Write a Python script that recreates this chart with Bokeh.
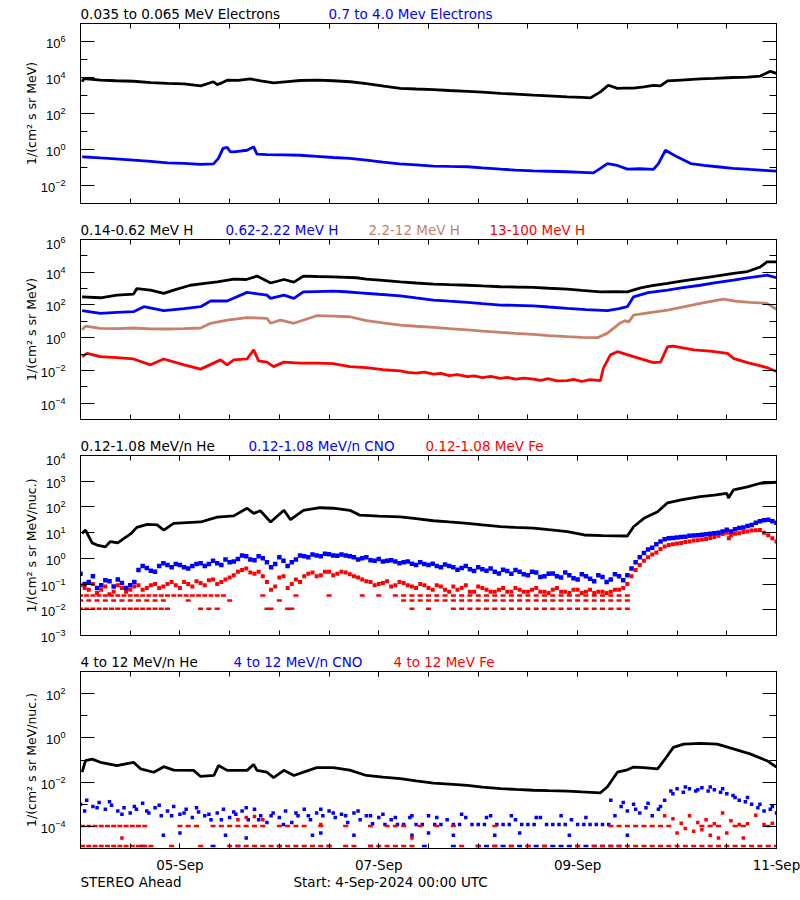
from bokeh.plotting import figure
from bokeh.layouts import column
from bokeh.models import (LogAxis, LinearAxis, FixedTicker, Range1d, CustomJSTickFormatter, ColumnDataSource)
from bokeh.core.properties import value
from bokeh.embed import file_html
from bokeh.resources import INLINE

FONT = "DejaVu Sans"
TICK_FONT = "Liberation Sans Narrow, Liberation Sans"
FS = "13.5px"
BLACK, BLUE, RED, BROWN = "#000000", "#0000ff", "#ff0000", "#c8806a"

# ---------------- titles (text, colour) ----------------
title1 = [("0.035 to 0.065 MeV Electrons", BLACK), ("0.7 to 4.0 Mev Electrons", BLUE)]
title2 = [("0.14-0.62 MeV H", BLACK), ("0.62-2.22 MeV H", BLUE), ("2.2-12 MeV H", BROWN), ("13-100 MeV H", RED)]
title3 = [("0.12-1.08 MeV/n He", BLACK), ("0.12-1.08 MeV/n CNO", BLUE), ("0.12-1.08 MeV Fe", RED)]
title4 = [("4 to 12 MeV/n He", BLACK), ("4 to 12 MeV/n CNO", BLUE), ("4 to 12 MeV Fe", RED)]
footer = [("STEREO Ahead", BLACK), ("Start:  4-Sep-2024 00:00 UTC", BLACK)]

# ---------------- x axis (hours since 4-Sep-2024 00:00 UTC) ----------------
x_tick_hours = [24, 72, 120, 168]
x_tick_labels = ["05-Sep", "07-Sep", "09-Sep", "11-Sep"]
x_minor_hours = [0, 12, 24, 36, 48, 60, 72, 84, 96, 108, 120, 132, 144, 156, 168]

# ---------------- Panel 1: electrons ----------------
e_lo_h = [0.4, 0.8, 4.8, 8.5, 12.8, 17, 21, 25, 29, 32.1, 33, 33.8, 35.4, 38, 41, 43.5, 46.6, 50, 53, 57.2,
          61, 65.2, 69, 73.2, 77.2, 81, 85.2, 89, 93.4, 97, 101.4, 105, 109.3, 113, 117.5, 121, 123.1, 125.5,
          127.4, 129.6, 131, 133.5, 136, 138.3, 140, 141.7, 145, 149.6, 153, 157.6, 161, 164.1, 166.5, 168]
e_lo_v = [5.8e3, 8.7e3, 7.1e3, 6.6e3, 6.2e3, 5.2e3, 4.7e3, 4.4e3, 3.4e3, 5.8e3, 4.0e3, 4.7e3, 7.1e3, 6.9e3,
          8.3e3, 6.4e3, 5.0e3, 5.9e3, 6.8e3, 7.1e3, 6.6e3, 5.8e3, 4.6e3, 3.3e3, 2.5e3, 2.3e3, 2.1e3, 1.9e3,
          1.7e3, 1.55e3, 1.3e3, 1.2e3, 1.05e3, 9.5e2, 8.3e2, 7.9e2, 7.4e2, 1.6e3, 3.7e3, 2.5e3, 2.6e3,
          2.6e3, 3.0e3, 3.7e3, 3.4e3, 6.5e3, 7.2e3, 8.3e3, 8.9e3, 1.0e4, 1.05e4, 1.2e4, 2.2e4, 1.7e4]
e_hi_h = [0.4, 2.5, 4.8, 8.5, 12.8, 17, 21, 25, 29, 32.1, 33.3, 34.4, 35.4, 36.2, 37, 40.2, 41.8, 42.6, 45,
          49, 53, 57, 61, 65, 69, 73, 77, 81, 85.2, 89, 93.4, 97, 101.4, 105, 109.3, 113, 117.5, 121, 123.8,
          125.5, 127.2, 129.6, 132, 135, 138.3, 139.5, 141.2, 144, 147.3, 150.5, 153.7, 157.5, 161.6, 165,
          168]
e_hi_v = [0.39, 0.37, 0.34, 0.3, 0.26, 0.22, 0.18, 0.17, 0.15, 0.16, 0.32, 1.15, 1.3, 0.74, 0.74, 0.91, 1.4,
          0.55, 0.52, 0.5, 0.48, 0.42, 0.36, 0.32, 0.26, 0.2, 0.16, 0.14, 0.12, 0.115, 0.11, 0.095, 0.081,
          0.072, 0.065, 0.062, 0.058, 0.054, 0.05, 0.089, 0.166, 0.13, 0.081, 0.085, 0.078, 0.166, 0.91,
          0.39, 0.166, 0.13, 0.11, 0.09, 0.078, 0.07, 0.063]

# ---------------- Panel 2: protons ----------------
h1_h = [0.4, 4.8, 8.8, 12.8, 13.6, 16.9, 20.1, 22.5, 26.5, 30, 33, 37, 40, 42.6, 45.9, 49.1, 51.5, 53.8, 57,
        61, 66.6, 69, 73, 77.2, 81, 85.2, 89, 93.4, 97, 101.4, 105, 109.3, 113, 117.5, 121, 125.5, 129, 132,
        135.2, 138, 141.7, 145, 149.6, 153, 157.6, 161, 164.1, 165.7, 168]
h1_v = [316, 275, 400, 457, 1.0e3, 813, 513, 813, 1.6e3, 2.1e3, 2.6e3, 3.8e3, 3.6e3, 5.8e3, 2.2e3, 3.6e3,
        2.5e3, 5.8e3, 5.5e3, 5.2e3, 4.6e3, 3.8e3, 3.2e3, 2.6e3, 2.2e3, 1.9e3, 1.75e3, 1.6e3, 1.45e3, 1.3e3,
        1.25e3, 1.2e3, 1.05e3, 933, 780, 631, 640, 631, 1.1e3, 1.5e3, 2.1e3, 2.9e3, 4.2e3, 5.6e3, 8.5e3,
        1.1e4, 2.1e4, 4.3e4, 4.3e4]
h2_h = [0.4, 4.8, 8.8, 12.8, 15.3, 20.1, 25, 29, 31.4, 35.4, 40.2, 45, 45.9, 49.1, 51.5, 53.8, 57, 61, 64,
        67.4, 72, 77.2, 81, 85.2, 89, 93.4, 97, 101.4, 105, 109.3, 113, 117.5, 122, 127.2, 130, 132, 133.5,
        137, 141.7, 145, 149.6, 153, 157.6, 161, 165.7, 168]
h2_v = [45, 31, 35, 39, 78, 45, 60, 78, 174, 174, 589, 400, 251, 400, 251, 631, 660, 692, 640, 550, 450, 363,
        270, 200, 170, 145, 120, 98, 95, 89, 75, 62, 52, 45, 60, 78, 316, 560, 813, 1.1e3, 1.6e3, 2.2e3,
        3.3e3, 4.5e3, 6.6e3, 4.6e3]
h3_h = [0.4, 1.2, 4.8, 8.8, 12.8, 17, 21, 25, 29, 31.4, 35.4, 40.2, 45, 45.9, 48.3, 51.5, 57, 61, 65, 69,
        73, 77.2, 81, 85.2, 89, 93.4, 97, 101.4, 105, 109.3, 113, 117.5, 121, 124.8, 127.2, 130.3, 131.4,
        132.3, 133.5, 137, 141.7, 145, 149.6, 155.2, 158, 161.6, 165.7, 168]
h3_v = [3.0, 5.1, 3.7, 3.6, 3.9, 3.5, 3.4, 3.6, 3.9, 7.6, 12, 17, 15, 7.6, 12, 7.6, 22, 21, 19, 11, 8.0, 5.9,
        5.0, 4.3, 3.6, 3.0, 2.5, 2.1, 1.85, 1.6, 1.35, 1.15, 1.05, 1.0, 1.9, 8.0, 11, 9.0, 24, 33, 49, 70, 126,
        229, 170, 145, 126, 54]
h4_h = [0.4, 1.6, 4.8, 8.8, 12.8, 16.9, 20.1, 25, 29, 33.8, 35.4, 37, 40.2, 41.8, 43, 45, 46.6, 49.1, 53,
        57, 61, 65, 69, 73, 77.2, 79, 81, 83, 85.2, 87, 89, 91, 93.4, 95, 97, 99, 101.4, 103, 105, 107,
        109.3, 111, 113, 115, 117.5, 119, 121, 123, 125.5, 126.2, 127.9, 129.6, 133.5, 138.3, 140, 141.7,
        143.1, 148, 152, 156.2, 157.6, 161, 165.7, 168]
h4_v = [0.069, 0.11, 0.069, 0.06, 0.05, 0.022, 0.05, 0.022, 0.012, 0.044, 0.022, 0.044, 0.05, 0.18, 0.038,
        0.032, 0.017, 0.032, 0.028, 0.028, 0.026, 0.017, 0.015, 0.011, 0.0093, 0.0075, 0.0068, 0.0078,
        0.0059, 0.0066, 0.0048, 0.0055, 0.0042, 0.0047, 0.0036, 0.0043, 0.0033, 0.0038, 0.0029, 0.0034,
        0.0029, 0.0025, 0.0031, 0.0023, 0.0024, 0.0028, 0.0021, 0.0027, 0.0024, 0.0135, 0.089, 0.14, 0.069,
        0.030, 0.032, 0.28, 0.30, 0.18, 0.15, 0.11, 0.055, 0.03, 0.015, 0.0085]

# ---------------- Panel 3: low-energy ions ----------------
he3_h = [0.4, 1.2, 2.8, 4, 6, 7.2, 9, 10.5, 12.1, 13.6, 16.1, 18.5, 20.1, 22.5, 29, 33, 37, 40.2, 41.8, 43.4,
         45.9, 49.1, 50.7, 53.8, 57.8, 61, 65, 67.4, 72, 77.2, 81, 85.2, 89, 93.4, 97, 101.4, 105, 109.3, 113,
         117.5, 121.6, 126, 132, 133.5, 136, 139.3, 141.7, 145, 149.6, 153, 156, 156.4, 157.6, 161, 164.1, 168]
he3_v = [9.3, 12.6, 4.0, 3.3, 2.8, 4.5, 4.0, 6.0, 8.9, 16, 21, 20, 12.6, 23, 26, 40, 45, 89, 56, 71, 26, 74,
         32, 74, 93, 89, 74, 48, 44, 41, 35, 29, 26, 23, 20, 17, 16, 15, 13, 11, 8.1, 7.6, 7.4, 17, 36, 65,
         145, 190, 251, 290, 339, 224, 457, 600, 832, 912]
cno3_h = [0, 2, 4, 6, 8, 10, 12, 14, 16, 18, 20, 22, 24, 26, 28, 30, 32, 34, 36, 38, 40, 42, 44, 46, 48, 50,
          52, 54, 56, 58, 60, 62, 64, 66, 68, 70, 72, 74, 76, 78, 80, 82, 84, 86, 88, 90, 92, 94, 96, 98, 100,
          102, 104, 106, 108, 110, 112, 114, 116, 118, 120, 122, 124, 126, 128, 130, 132, 134, 136, 138, 140,
          142, 144, 146, 148, 150, 152, 154, 156, 158, 160, 162, 164, 166, 168,
          1, 3, 5, 7, 9, 11, 13, 15, 17, 19, 21, 23, 25, 27, 29, 31, 33, 35, 37, 39, 41, 43, 45, 47, 49, 51,
          53, 55, 57, 59, 61, 63, 65, 67, 69, 71, 73, 75, 77, 79, 81, 83, 85, 87, 89, 91, 93, 95, 97, 99, 101,
          103, 105, 107, 109, 111, 113, 115, 117, 119, 121, 123, 125, 127, 129, 131, 133, 135, 137, 139, 141,
          143, 145, 147, 149, 151, 153, 155, 157, 159, 161, 163, 165, 167]
cno3_v = [0.25, 0.12, 0.07, 0.14, 0.08, 0.11, 0.09, 0.35, 0.42, 0.3, 0.65, 0.45, 0.55, 0.4, 0.6, 0.5, 0.8,
          0.55, 0.7, 0.95, 1.2, 0.85, 1.0, 0.45, 1.1, 0.5, 0.9, 1.2, 1.4, 1.2, 1.45, 1.25, 1.3, 1.1, 1.0, 0.85,
          0.95, 0.8, 0.75, 0.7, 0.62, 0.7, 0.55, 0.5, 0.58, 0.45, 0.42, 0.38, 0.45, 0.33, 0.3, 0.36, 0.25,
          0.3, 0.22, 0.28, 0.2, 0.26, 0.18, 0.22, 0.15, 0.2, 0.13, 0.19, 0.15, 0.2, 0.22, 0.7, 1.6, 2.6, 4.5,
          6.0, 6.5, 7.0, 7.8, 8.2, 9.0, 10.0, 13.0, 13.5, 16, 20, 28, 32, 24,
          0.1, 0.2, 0.09, 0.13, 0.15, 0.07, 0.12, 0.5, 0.33, 0.5, 0.55, 0.6, 0.45, 0.5, 0.65, 0.6, 0.65, 0.9,
          0.75, 1.3, 0.9, 1.2, 0.7, 0.6, 0.8, 0.7, 1.3, 1.1, 1.3, 1.5, 1.3, 1.4, 1.2, 0.9, 1.1, 0.8, 0.75,
          0.85, 0.65, 0.75, 0.55, 0.6, 0.62, 0.45, 0.5, 0.36, 0.5, 0.32, 0.38, 0.4, 0.26, 0.32, 0.35, 0.24,
          0.3, 0.19, 0.25, 0.2, 0.28, 0.17, 0.24, 0.16, 0.22, 0.12, 0.24, 0.14, 0.4, 1.1, 2.2, 3.5, 5.5, 6.2,
          6.8, 7.5, 8.0, 8.6, 9.5, 11, 11, 15, 18, 24, 30, 28]
fe3_h = [0, 2, 4, 6, 8, 10, 12, 14, 16, 18, 20, 22, 24, 26, 28, 30, 32, 34, 36, 38, 40, 42, 44, 46, 48, 50,
         52, 54, 56, 58, 60, 62, 64, 66, 68, 70, 72, 74, 76, 78, 80, 82, 84, 86, 88, 90, 92, 94, 96, 98, 100,
         102, 104, 106, 108, 110, 112, 114, 116, 118, 120, 122, 124, 126, 128, 130, 132,
         1, 3, 5, 7, 9, 11, 13, 15, 17, 19, 21, 23, 25, 27, 29, 31, 33, 35, 37, 39, 41, 43, 45, 47, 49, 51,
         53, 55, 57, 59, 61, 63, 65, 67, 69, 71, 73, 75, 77, 79, 81, 83, 85, 87, 89, 91, 93, 95, 97, 99, 101,
         103, 105, 107, 109, 111, 113, 115, 117, 119, 121, 123, 125, 127, 129, 131,
         133, 134, 135, 136, 137, 138, 139, 140, 141, 142, 143, 144, 145, 146, 147, 148, 149, 150, 151, 152,
         153, 154, 155, 156, 156.5, 157, 158, 159, 160, 161, 162, 163, 164, 165, 166, 167, 168]
fe3_v = [0.09, 0.06, 0.045, 0.08, 0.05, 0.07, 0.06, 0.09, 0.07, 0.1, 0.08, 0.12, 0.07, 0.1, 0.13, 0.09,
         0.15, 0.12, 0.18, 0.3, 0.4, 0.25, 0.2, 0.06, 0.18, 0.07, 0.15, 0.2, 0.28, 0.22, 0.3, 0.25, 0.28, 0.2,
         0.15, 0.12, 0.1, 0.13, 0.09, 0.11, 0.08, 0.1, 0.07, 0.09, 0.06, 0.08, 0.07, 0.05, 0.08, 0.06, 0.05,
         0.07, 0.05, 0.06, 0.05, 0.07, 0.05, 0.06, 0.05, 0.045, 0.06, 0.05, 0.045, 0.05, 0.05, 0.06, 0.1,
         0.07, 0.1, 0.06, 0.04, 0.09, 0.05, 0.08, 0.06, 0.09, 0.07, 0.1, 0.09, 0.12, 0.08, 0.11, 0.14, 0.1,
         0.15, 0.22, 0.35, 0.28, 0.3, 0.12, 0.08, 0.2, 0.1, 0.12, 0.25, 0.2, 0.3, 0.22, 0.3, 0.24, 0.18, 0.13,
         0.09, 0.11, 0.08, 0.12, 0.09, 0.07, 0.09, 0.06, 0.08, 0.05, 0.06, 0.09, 0.05, 0.07, 0.05, 0.06, 0.05,
         0.07, 0.05, 0.06, 0.05, 0.045, 0.07, 0.05, 0.06, 0.045, 0.06, 0.05, 0.045, 0.06, 0.07,
         0.2, 0.35, 0.55, 0.8, 1.1, 1.4, 1.7, 2.3, 2.9, 3.3, 3.5, 3.8, 4.0, 4.3, 4.5, 4.9, 5.1, 5.4, 5.7, 6.2,
         6.8, 7.6, 8.8, 9.8, 6.0, 8.0, 9.0, 9.5, 10.5, 11, 12, 12.5, 12.6, 10, 8, 6, 4.5]
# quantized low-count Fe levels (one count per interval)
fe3_lvl1_v = 0.036
fe3_lvl1_h = [0, 1.5, 3, 4.5, 6, 7.5, 9, 10.5, 12, 13.5, 15, 16.5, 18, 19.5, 21, 22.5, 24, 25.5, 27, 28.5, 30,
              31.5, 33, 34.5, 44, 52, 60, 68, 72, 76, 78, 80, 82, 84, 86, 88, 90, 92, 94, 96, 98, 100, 102,
              104, 106, 108, 110, 112, 114, 116, 118, 120, 122, 124, 126, 128, 130, 132]
fe3_lvl2_v = 0.023
fe3_lvl2_h = [0, 2, 4, 6, 8, 10, 12, 14, 16, 18, 20, 26, 36, 48, 78, 80, 82, 84, 86, 88, 90, 92, 94, 96, 98,
              100, 102, 104, 106, 108, 110, 112, 114, 116, 118, 120, 122, 124, 126, 128, 130, 132]
fe3_lvl3_v = 0.011
fe3_lvl3_h = [0, 1.5, 3, 4.5, 6, 7.5, 9, 10.5, 12, 13.5, 15, 16.5, 18, 19.5, 21, 29, 31, 33, 45, 46, 50, 51,
              80, 84, 90, 92, 94, 96, 98, 100, 102, 104, 106, 108, 110, 112, 114, 116, 118, 120, 122, 124,
              126, 128, 130, 132]

# ---------------- Panel 4: high-energy ions ----------------
he4_h = [0.4, 1.2, 2.8, 4.8, 8.8, 12.8, 14.5, 17.7, 20.1, 22.5, 27.3, 29, 32.2, 33.3, 35.4, 40.2, 41.8, 42.6,
         45, 46.6, 49.1, 51.5, 57, 61, 65, 69, 73, 77.2, 81, 85.2, 89, 93.4, 97, 101.4, 105, 109.3, 113,
         117.5, 121, 125.5, 127.2, 129.6, 132, 133.5, 136, 139.3, 140.8, 143.1, 145.6, 149.6, 153.7, 157.6,
         161.6, 165.7, 168]
he4_v = [0.028, 0.093, 0.11, 0.079, 0.056, 0.079, 0.04, 0.028, 0.05, 0.035, 0.034, 0.018, 0.02, 0.056, 0.034,
         0.034, 0.063, 0.034, 0.028, 0.016, 0.034, 0.02, 0.045, 0.045, 0.035, 0.02, 0.017, 0.0145, 0.0115,
         0.0091, 0.0082, 0.0072, 0.006, 0.0051, 0.0047, 0.0043, 0.0041, 0.0039, 0.0036, 0.0033, 0.0062, 0.028,
         0.036, 0.048, 0.045, 0.04, 0.093, 0.37, 0.52, 0.56, 0.52, 0.32, 0.19, 0.093, 0.048]
cno4_h = [0, 1.5, 3, 4.5, 6, 7.5, 9, 10.5, 12, 13.5, 15, 16.5, 18, 19.5, 21, 22.5, 24, 25.5, 27, 28.5, 30,
          31.5, 33, 34.5, 36, 37.5, 39, 40.5, 42, 43.5, 45, 46.5, 48, 49.5, 51, 52.5, 54, 55.5, 57, 58.5, 60,
          61.5, 63, 64.5, 66, 67.5, 69, 70.5, 72, 73.5, 75, 76.5, 78, 79.5, 81, 82.5, 84, 85.5, 87, 88.5, 90,
          91.5, 93, 94.5, 96, 97.5, 99, 100.5, 102, 103.5, 105, 106.5, 108, 109.5, 111, 112.5, 114, 115.5, 117,
          118.5, 120, 121.5, 123, 124.5, 126, 127.5, 129, 130.5, 132, 133.5, 135, 136.5, 138, 139.5, 141,
          142.5, 144, 145.5, 147, 148.5, 150, 151.5, 153, 154.5, 156, 157.5, 159, 160.5, 162, 163.5, 165,
          166.5, 168,
          1, 4, 7, 10, 13, 16, 19, 22, 25, 28, 31, 34, 37, 40, 43, 46, 49, 52, 55, 58, 61, 64, 67, 70, 73, 76,
          80, 86, 92, 98, 104, 110, 116, 122, 128, 131, 134, 137, 140, 143, 146, 149, 152, 155, 158, 161, 164,
          167,
          20, 24, 35, 40, 56, 58, 66, 80, 84, 90, 100, 106, 118, 132]
cno4_v = [1e-3, 1.5e-3, 8e-4, 1.2e-3, 6e-4, 9e-4, 5e-4, 7e-4, 4e-4, 6e-4, 1.1e-3, 4e-4, 7e-4, 3e-4, 5e-4,
          8e-4, 3.5e-4, 6e-4, 2.5e-4, 4.5e-4, 3e-4, 2e-4, 4e-4, 6e-4, 2.5e-4, 3.5e-4, 5e-4, 2e-4, 6e-4, 3e-4,
          1.5e-4, 4e-4, 2.5e-4, 5e-4, 1.5e-4, 3e-4, 6e-4, 2e-4, 4e-4, 3e-4, 5e-4, 2.5e-4, 3.5e-4, 1.5e-4,
          4e-4, 2e-4, 3e-4, 1.3e-4, 2.5e-4, 1.2e-4, 2e-4, 1.2e-4, 1.2e-4, 2.5e-4, 1.2e-4, 1.2e-4, 3e-4,
          1.2e-4, 1.2e-4, 2e-4, 1.2e-4, 1.2e-4, 2.5e-4, 1.2e-4, 1.2e-4, 1.2e-4, 3e-4, 1.2e-4, 1.2e-4, 1.2e-4,
          2e-4, 1.2e-4, 1.2e-4, 1.2e-4, 2.5e-4, 1.2e-4, 1.2e-4, 1.2e-4, 1.2e-4, 2e-4, 1.2e-4, 1.2e-4, 1.2e-4,
          1.2e-4, 1.2e-4, 1.2e-4, 3e-4, 8e-4, 5e-4, 1e-3, 4e-4, 7e-4, 3e-4, 6e-4, 1.5e-3, 4e-3, 5e-3, 3.5e-3,
          5e-3, 4e-3, 5.5e-3, 4e-3, 4.5e-3, 3.5e-3, 3e-3, 2.5e-3, 1.5e-3, 1.3e-3, 1e-3, 7e-4, 5e-4, 6e-4,
          4e-4,
          5e-4, 7e-4, 1.3e-3, 3.5e-4, 8e-4, 5e-4, 9e-4, 3e-4, 4e-4, 7e-4, 3.5e-4, 2e-4, 4.5e-4, 7e-4, 2e-4,
          3e-4, 1.2e-4, 4e-4, 3e-4, 6e-4, 4e-4, 3e-4, 5e-4, 3e-4, 3.5e-4, 2.5e-4, 3e-4, 2.5e-4, 3.5e-4,
          2.5e-4, 3e-4, 2.5e-4, 3e-4, 2.5e-4, 1.5e-3, 1.2e-3, 6e-4, 1.1e-3, 8e-4, 3e-3, 6e-3, 4.5e-3, 6e-3,
          5e-3, 2e-3, 2e-3, 1e-3, 8e-4,
          4e-5, 5e-5, 4e-5, 3e-5, 4e-5, 5e-5, 4e-5, 4e-5, 5e-5, 4e-5, 4e-5, 5e-5, 4e-5, 4e-5]
cno4_floor_v = 1.3e-5
cno4_floor_h = [15, 32, 38, 48, 60, 70, 83, 90, 96, 98, 100, 102, 104, 106, 108, 110, 112, 114, 116, 118,
                120, 122, 124, 126, 128, 130]
fe4_lvl1_v = 1.05e-4
fe4_lvl1_h = [0.5, 2, 3.5, 5, 6.5, 8, 9.5, 11, 12.5, 14, 15.5, 24, 26, 28, 32, 34, 36, 38, 40, 42, 44, 48,
              50, 52, 54, 58, 64, 70, 74, 76, 78, 82, 86, 90, 100, 128, 130, 132, 134, 136, 138, 140, 142,
              150, 152, 154, 158, 160, 166]
fe4_lvl2_v = 1.3e-5
fe4_lvl2_h = [0.5, 2, 3.5, 5, 6.5, 8, 9.5, 11, 12.5, 14, 15.5, 17, 22, 29, 36, 38, 40, 42, 44, 46, 48, 50,
              52, 54, 56, 58, 60, 64, 66, 70, 72, 74, 76, 78, 80, 92, 96, 100, 104, 108, 112, 120, 124, 126,
              128, 130, 132, 134, 136, 138, 140, 142, 144, 146, 148, 150, 152, 154, 156, 158, 160, 162, 164,
              166, 168]
fe4_h = [10, 38, 40, 42, 44, 58, 80, 141, 143, 145, 147, 149, 151, 153, 155, 157, 159, 161, 163, 165, 167,
         144, 146, 148, 150, 152, 154, 156, 160]
fe4_v = [3e-5, 2e-4, 2.5e-4, 2.8e-4, 2e-4, 1.2e-4, 3e-5, 3e-4, 2.2e-4, 1.4e-4, 3e-4, 1.5e-4, 2e-4, 1.3e-4,
         4e-4, 1.8e-4, 1.2e-4, 1.3e-4, 3.2e-4, 1.2e-4, 1.4e-4, 5e-5, 8e-5, 6e-5, 7e-5, 4e-5, 3e-5, 5e-5, 3e-5]

UNITS_1 = "1/(cm\u00b2 s sr MeV)"
UNITS_2 = "1/(cm\u00b2 s sr MeV/nuc.)"

W = 800
FRAME_H = 180
LEFT, RIGHT = 80, 24


def blank():
    return CustomJSTickFormatter(code="return ''")


def strip(height, items, xs, y):
    # a text-only row whose frame lines up with the panels, x in page pixels
    s = figure(width=W, height=height, x_range=Range1d(LEFT, W - RIGHT), y_range=Range1d(0, height),
               output_backend="svg", toolbar_location=None, min_border_left=LEFT,
               min_border_right=RIGHT, min_border_top=0, min_border_bottom=0,
               x_axis_location=None, y_axis_location=None, outline_line_color=None)
    s.grid.visible = False
    src = ColumnDataSource(dict(x=xs, y=[y] * len(items), text=[t for t, c in items],
                                color=[c for t, c in items]))
    s.text(x="x", y="y", text="text", text_color="color", source=src, text_font=value(FONT),
           text_font_size=value(FS), text_baseline="middle", text_align="left")
    return s


def panel(ylo, yhi, major, minor, ylabel, bottom, show_dates):
    p = figure(width=W, height=3 + FRAME_H + bottom, x_range=Range1d(0, 168),
               y_range=Range1d(ylo, yhi), y_axis_type="log", output_backend="svg",
               toolbar_location=None, min_border_left=LEFT, min_border_right=RIGHT,
               min_border_top=3, min_border_bottom=bottom)
    p.grid.visible = False
    p.outline_line_color = "black"
    yt = FixedTicker(ticks=major, minor_ticks=minor)
    xt = FixedTicker(ticks=x_tick_hours, minor_ticks=x_minor_hours)
    ya = p.yaxis[0]
    ya.ticker = yt
    ya.axis_line_color = "black"
    ya.major_tick_line_color = "black"
    ya.minor_tick_line_color = "black"
    ya.major_tick_in, ya.major_tick_out = 14, 0
    ya.minor_tick_in, ya.minor_tick_out = 7, 0
    ya.major_label_text_font = TICK_FONT
    ya.major_label_text_font_size = "13px"
    ya.major_label_text_color = "black"
    ya.major_label_standoff = 15
    ya.axis_label = ylabel
    ya.axis_label_text_font = FONT
    ya.axis_label_text_font_size = "12.5px"
    ya.axis_label_text_font_style = "normal"
    ya.axis_label_text_color = "black"
    ya.axis_label_standoff = -1
    ra = LogAxis(ticker=yt, formatter=blank(), major_tick_in=14, major_tick_out=0, minor_tick_in=7,
                 minor_tick_out=0, major_label_standoff=0, major_label_text_font_size="1px",
                 axis_line_color="black", major_tick_line_color="black", minor_tick_line_color="black")
    p.add_layout(ra, "right")
    xa = p.xaxis[0]
    xa.ticker = xt
    xa.axis_line_color = "black"
    xa.major_tick_line_color = "black"
    xa.minor_tick_line_color = "black"
    xa.major_tick_in, xa.major_tick_out = 5, 0
    xa.minor_tick_in, xa.minor_tick_out = 5, 0
    if show_dates:
        xa.major_label_overrides = {h: s for h, s in zip(x_tick_hours, x_tick_labels)}
        xa.major_label_text_font = FONT
        xa.major_label_text_font_size = FS
        xa.major_label_text_color = "black"
        xa.major_label_standoff = 8
    else:
        xa.formatter = blank()
        xa.major_label_standoff = 0
        xa.major_label_text_font_size = "1px"
    ta = LinearAxis(ticker=xt, formatter=blank(), major_tick_in=5, major_tick_out=0, minor_tick_in=5,
                    minor_tick_out=0, major_label_standoff=0, major_label_text_font_size="1px",
                    axis_line_color="black", major_tick_line_color="black", minor_tick_line_color="black")
    p.add_layout(ta, "above")
    return p


def dashes(p, hours, level, color):
    p.scatter(hours, [level] * len(hours), marker="dash", size=5, line_width=2.5, line_color=color)


s1 = strip(20, title1, [80, 328], 7)
s2 = strip(23, title2, [80, 225, 368, 489], 7)
s3 = strip(23, title3, [80, 248, 425], 7)
s4 = strip(23, title4, [80, 233, 393], 7)
s5 = strip(20, footer, [80, 293], 14)

# Panel 1
p1 = panel(1e-3, 1e7, [1e-2, 1, 1e2, 1e4, 1e6], [1e-3, 1e-1, 1e1, 1e3, 1e5, 1e7], UNITS_1, 10, False)
p1.line(e_lo_h, e_lo_v, line_width=2.8, color=BLACK)
p1.line(e_hi_h, e_hi_v, line_width=2.8, color=BLUE)

# Panel 2
p2 = panel(1e-5, 1e6, [1e-4, 1e-2, 1, 1e2, 1e4, 1e6], [1e-5, 1e-3, 1e-1, 1e1, 1e3, 1e5], UNITS_1, 10, False)
p2.line(h1_h, h1_v, line_width=2.8, color=BLACK)
p2.line(h2_h, h2_v, line_width=2.8, color=BLUE)
p2.line(h3_h, h3_v, line_width=2.8, color=BROWN)
p2.line(h4_h, h4_v, line_width=2.8, color=RED)

# Panel 3
p3 = panel(1e-3, 1e4, [1e-3, 1e-2, 1e-1, 1, 1e1, 1e2, 1e3, 1e4], [], UNITS_2, 10, False)
dashes(p3, fe3_lvl1_h, fe3_lvl1_v, RED)
dashes(p3, fe3_lvl2_h, fe3_lvl2_v, RED)
dashes(p3, fe3_lvl3_h, fe3_lvl3_v, RED)
p3.scatter(fe3_h, fe3_v, marker="square", size=4, line_width=0, fill_color=RED)
p3.scatter(cno3_h, cno3_v, marker="square", size=4.5, line_width=0, fill_color=BLUE)
p3.line(he3_h, he3_v, line_width=2.8, color=BLACK)

# Panel 4
p4 = panel(1e-5, 1e3, [1e-4, 1e-2, 1, 1e2], [1e-5, 1e-3, 1e-1, 1e1, 1e3], UNITS_2, 24, True)
dashes(p4, cno4_floor_h, cno4_floor_v, BLUE)
p4.scatter(cno4_h, cno4_v, marker="square", size=3.5, line_width=0, fill_color=BLUE)
dashes(p4, fe4_lvl1_h, fe4_lvl1_v, RED)
dashes(p4, fe4_lvl2_h, fe4_lvl2_v, RED)
p4.scatter(fe4_h, fe4_v, marker="square", size=3.5, line_width=0, fill_color=RED)
p4.line(he4_h, he4_v, line_width=2.8, color=BLACK)

layout = column(s1, p1, s2, p2, s3, p3, s4, p4, s5, spacing=0)
open("out.html", "w").write(file_html(layout, INLINE))
